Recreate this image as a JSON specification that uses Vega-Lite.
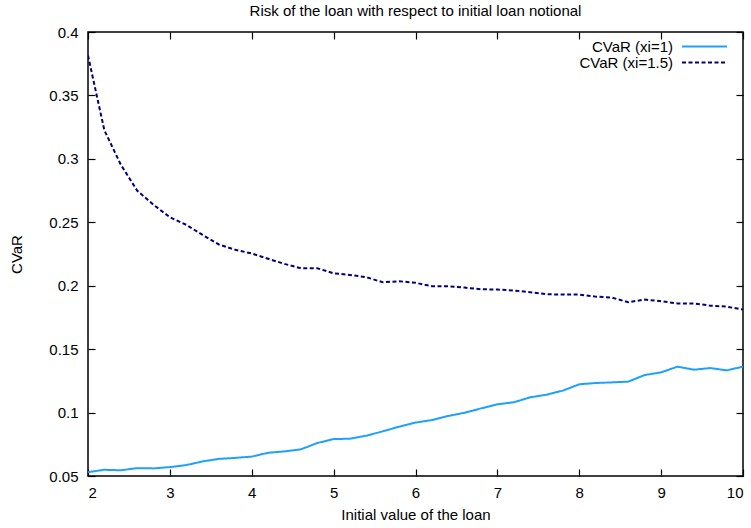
{
  "$schema": "https://vega.github.io/schema/vega-lite/v6.json",
  "width": 655,
  "height": 444,
  "autosize": "none",
  "padding": {"left": 88, "top": 32, "right": 8, "bottom": 52},
  "title": {"text": "Risk of the loan with respect to initial loan notional", "fontSize": 15, "fontWeight": "normal", "font": "Liberation Sans", "color": "black", "offset": 6, "anchor": "middle"},
  "config": {
    "font": "Liberation Sans",
    "view": {"stroke": "black", "strokeWidth": 1.5},
    "axis": {"grid": false, "domain": false, "tickColor": "black", "tickSize": -7, "tickWidth": 1.2, "labelFontSize": 15, "labelColor": "black", "titleFontSize": 15, "titleFontWeight": "normal", "titleColor": "black", "labelFont": "Liberation Sans", "titleFont": "Liberation Sans"}
  },
  "data": {"values": [
    {"x": 2.0, "v": 0.0530, "s": "CVaR (xi=1)"},
    {"x": 2.2, "v": 0.0549, "s": "CVaR (xi=1)"},
    {"x": 2.4, "v": 0.0545, "s": "CVaR (xi=1)"},
    {"x": 2.6, "v": 0.0562, "s": "CVaR (xi=1)"},
    {"x": 2.8, "v": 0.0560, "s": "CVaR (xi=1)"},
    {"x": 3.0, "v": 0.0570, "s": "CVaR (xi=1)"},
    {"x": 3.2, "v": 0.0586, "s": "CVaR (xi=1)"},
    {"x": 3.4, "v": 0.0615, "s": "CVaR (xi=1)"},
    {"x": 3.6, "v": 0.0635, "s": "CVaR (xi=1)"},
    {"x": 3.8, "v": 0.0643, "s": "CVaR (xi=1)"},
    {"x": 4.0, "v": 0.0653, "s": "CVaR (xi=1)"},
    {"x": 4.2, "v": 0.0683, "s": "CVaR (xi=1)"},
    {"x": 4.4, "v": 0.0694, "s": "CVaR (xi=1)"},
    {"x": 4.6, "v": 0.0710, "s": "CVaR (xi=1)"},
    {"x": 4.8, "v": 0.0760, "s": "CVaR (xi=1)"},
    {"x": 5.0, "v": 0.0791, "s": "CVaR (xi=1)"},
    {"x": 5.2, "v": 0.0794, "s": "CVaR (xi=1)"},
    {"x": 5.4, "v": 0.0818, "s": "CVaR (xi=1)"},
    {"x": 5.6, "v": 0.0852, "s": "CVaR (xi=1)"},
    {"x": 5.8, "v": 0.0889, "s": "CVaR (xi=1)"},
    {"x": 6.0, "v": 0.0921, "s": "CVaR (xi=1)"},
    {"x": 6.2, "v": 0.0941, "s": "CVaR (xi=1)"},
    {"x": 6.4, "v": 0.0973, "s": "CVaR (xi=1)"},
    {"x": 6.6, "v": 0.0999, "s": "CVaR (xi=1)"},
    {"x": 6.8, "v": 0.1033, "s": "CVaR (xi=1)"},
    {"x": 7.0, "v": 0.1065, "s": "CVaR (xi=1)"},
    {"x": 7.2, "v": 0.1081, "s": "CVaR (xi=1)"},
    {"x": 7.4, "v": 0.1120, "s": "CVaR (xi=1)"},
    {"x": 7.6, "v": 0.1141, "s": "CVaR (xi=1)"},
    {"x": 7.8, "v": 0.1173, "s": "CVaR (xi=1)"},
    {"x": 8.0, "v": 0.1223, "s": "CVaR (xi=1)"},
    {"x": 8.2, "v": 0.1233, "s": "CVaR (xi=1)"},
    {"x": 8.4, "v": 0.1238, "s": "CVaR (xi=1)"},
    {"x": 8.6, "v": 0.1244, "s": "CVaR (xi=1)"},
    {"x": 8.8, "v": 0.1296, "s": "CVaR (xi=1)"},
    {"x": 9.0, "v": 0.1317, "s": "CVaR (xi=1)"},
    {"x": 9.2, "v": 0.1362, "s": "CVaR (xi=1)"},
    {"x": 9.4, "v": 0.1338, "s": "CVaR (xi=1)"},
    {"x": 9.6, "v": 0.1351, "s": "CVaR (xi=1)"},
    {"x": 9.8, "v": 0.1333, "s": "CVaR (xi=1)"},
    {"x": 10.0, "v": 0.1362, "s": "CVaR (xi=1)"},
    {"x": 2.0, "v": 0.3815, "s": "CVaR (xi=1.5)"},
    {"x": 2.2, "v": 0.3225, "s": "CVaR (xi=1.5)"},
    {"x": 2.4, "v": 0.2955, "s": "CVaR (xi=1.5)"},
    {"x": 2.6, "v": 0.2750, "s": "CVaR (xi=1.5)"},
    {"x": 2.8, "v": 0.2638, "s": "CVaR (xi=1.5)"},
    {"x": 3.0, "v": 0.2540, "s": "CVaR (xi=1.5)"},
    {"x": 3.2, "v": 0.2480, "s": "CVaR (xi=1.5)"},
    {"x": 3.4, "v": 0.2400, "s": "CVaR (xi=1.5)"},
    {"x": 3.6, "v": 0.2325, "s": "CVaR (xi=1.5)"},
    {"x": 3.8, "v": 0.2283, "s": "CVaR (xi=1.5)"},
    {"x": 4.0, "v": 0.2254, "s": "CVaR (xi=1.5)"},
    {"x": 4.2, "v": 0.2212, "s": "CVaR (xi=1.5)"},
    {"x": 4.4, "v": 0.2172, "s": "CVaR (xi=1.5)"},
    {"x": 4.6, "v": 0.2138, "s": "CVaR (xi=1.5)"},
    {"x": 4.8, "v": 0.2138, "s": "CVaR (xi=1.5)"},
    {"x": 5.0, "v": 0.2098, "s": "CVaR (xi=1.5)"},
    {"x": 5.2, "v": 0.2085, "s": "CVaR (xi=1.5)"},
    {"x": 5.4, "v": 0.2067, "s": "CVaR (xi=1.5)"},
    {"x": 5.6, "v": 0.2027, "s": "CVaR (xi=1.5)"},
    {"x": 5.8, "v": 0.2035, "s": "CVaR (xi=1.5)"},
    {"x": 6.0, "v": 0.2023, "s": "CVaR (xi=1.5)"},
    {"x": 6.2, "v": 0.1996, "s": "CVaR (xi=1.5)"},
    {"x": 6.4, "v": 0.1996, "s": "CVaR (xi=1.5)"},
    {"x": 6.6, "v": 0.1985, "s": "CVaR (xi=1.5)"},
    {"x": 6.8, "v": 0.1972, "s": "CVaR (xi=1.5)"},
    {"x": 7.0, "v": 0.1970, "s": "CVaR (xi=1.5)"},
    {"x": 7.2, "v": 0.1962, "s": "CVaR (xi=1.5)"},
    {"x": 7.4, "v": 0.1949, "s": "CVaR (xi=1.5)"},
    {"x": 7.6, "v": 0.1933, "s": "CVaR (xi=1.5)"},
    {"x": 7.8, "v": 0.1930, "s": "CVaR (xi=1.5)"},
    {"x": 8.0, "v": 0.1930, "s": "CVaR (xi=1.5)"},
    {"x": 8.2, "v": 0.1914, "s": "CVaR (xi=1.5)"},
    {"x": 8.4, "v": 0.1906, "s": "CVaR (xi=1.5)"},
    {"x": 8.6, "v": 0.1870, "s": "CVaR (xi=1.5)"},
    {"x": 8.8, "v": 0.1891, "s": "CVaR (xi=1.5)"},
    {"x": 9.0, "v": 0.1878, "s": "CVaR (xi=1.5)"},
    {"x": 9.2, "v": 0.1860, "s": "CVaR (xi=1.5)"},
    {"x": 9.4, "v": 0.1860, "s": "CVaR (xi=1.5)"},
    {"x": 9.6, "v": 0.1843, "s": "CVaR (xi=1.5)"},
    {"x": 9.8, "v": 0.1835, "s": "CVaR (xi=1.5)"},
    {"x": 10.0, "v": 0.1812, "s": "CVaR (xi=1.5)"}
  ]},
  "layer": [
    {
      "mark": {"type": "line", "strokeWidth": 2, "clip": true},
      "encoding": {
        "x": {"field": "x", "type": "quantitative", "scale": {"domain": [2, 10], "nice": false, "zero": false},
              "axis": {"orient": "bottom", "values": [2, 3, 4, 5, 6, 7, 8, 9, 10], "title": "Initial value of the loan", "labelPadding": 16, "titlePadding": 7, "format": "d"}},
        "y": {"field": "v", "type": "quantitative", "scale": {"domain": [0.05, 0.4], "nice": false, "zero": false},
              "axis": {"orient": "left", "values": [0.05, 0.1, 0.15, 0.2, 0.25, 0.3, 0.35, 0.4], "title": "CVaR", "format": "~g", "labelPadding": 17, "titlePadding": 24}},
        "color": {"field": "s", "type": "nominal", "scale": {"domain": ["CVaR (xi=1)", "CVaR (xi=1.5)"], "range": ["#1ea0ff", "#00007f"]},
                  "legend": {"title": null, "orient": "none", "legendX": 609, "legendY": 7, "padding": 0, "symbolType": "M-4,0H4", "symbolSize": 126.5, "symbolStrokeWidth": 2, "labelAlign": "right", "labelOffset": -39, "labelFontSize": 15, "labelColor": "black", "rowPadding": -2, "labelFont": "Liberation Sans"}},
        "strokeDash": {"field": "s", "type": "nominal", "scale": {"domain": ["CVaR (xi=1)", "CVaR (xi=1.5)"], "range": [[1, 0], [4, 2.5]]},
                  "legend": {"title": null, "orient": "none", "legendX": 609, "legendY": 7, "padding": 0, "symbolType": "M-4,0H4", "symbolSize": 126.5, "symbolStrokeWidth": 2, "labelAlign": "right", "labelOffset": -39, "labelFontSize": 15, "labelColor": "black", "rowPadding": -2, "labelFont": "Liberation Sans"}}
      }
    },
    {
      "mark": {"type": "line", "strokeOpacity": 0},
      "encoding": {
        "x": {"field": "x", "type": "quantitative", "scale": {"domain": [2, 10], "nice": false, "zero": false},
              "axis": {"orient": "top", "values": [2, 3, 4, 5, 6, 7, 8, 9, 10], "labels": false, "title": null}},
        "y": {"field": "v", "type": "quantitative", "scale": {"domain": [0.05, 0.4], "nice": false, "zero": false},
              "axis": {"orient": "right", "values": [0.05, 0.1, 0.15, 0.2, 0.25, 0.3, 0.35, 0.4], "labels": false, "title": null}},
        "detail": {"field": "s", "type": "nominal"}
      }
    }
  ],
  "resolve": {"axis": {"x": "independent", "y": "independent"}}
}
